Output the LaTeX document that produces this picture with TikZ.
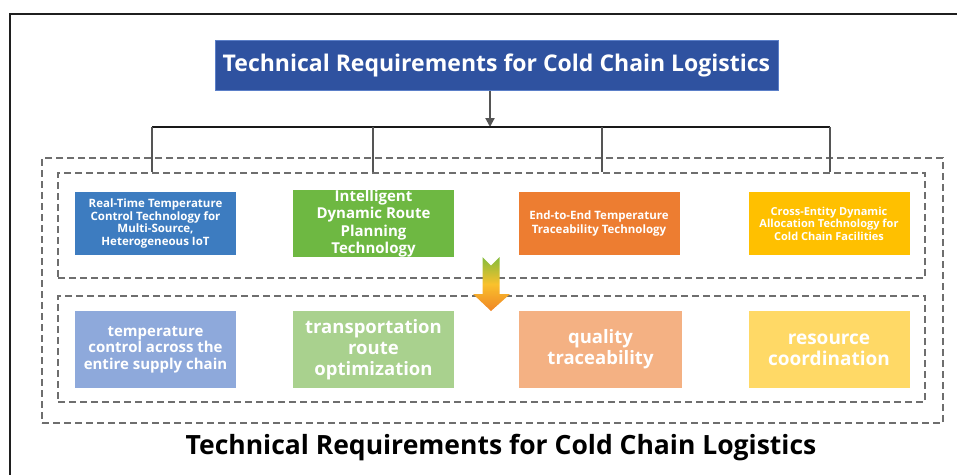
\documentclass[tikz,border=0pt]{standalone}
\usepackage{fontspec}
\setmainfont{Open Sans}
\usetikzlibrary{arrows.meta,positioning}

\definecolor{titleblue}{HTML}{2F52A0}
\definecolor{titleedge}{HTML}{5B7FC8}
\definecolor{cblue}{HTML}{3D7CC0}
\definecolor{cgreen}{HTML}{6EB842}
\definecolor{corange}{HTML}{ED7D31}
\definecolor{cyellow}{HTML}{FFC000}
\definecolor{lblue}{HTML}{8EA9DB}
\definecolor{lgreen}{HTML}{A9D18E}
\definecolor{lorange}{HTML}{F4B183}
\definecolor{lyellow}{HTML}{FFD966}
\definecolor{dashgray}{HTML}{6E6E6E}
\definecolor{linkgray}{HTML}{555555}
\definecolor{agreen}{HTML}{84BC3C}
\definecolor{ayellow}{HTML}{F9C12C}
\definecolor{aorange}{HTML}{EF8526}

\tikzset{
  techbox/.style={rectangle, inner sep=0pt, minimum width=161pt, minimum height=63pt,
    text=white, align=center, font=\bfseries},
  goalbox/.style={rectangle, inner sep=0pt, minimum width=161pt, minimum height=77pt,
    text=white, align=center, font=\bfseries},
  groupbox/.style={draw=dashgray, line width=2pt, dash pattern=on 7pt off 4pt, inner sep=0pt},
  link/.style={draw=linkgray, line width=2pt},
}

\begin{document}
\begin{tikzpicture}[x=1pt, y=-1pt]
\useasboundingbox (0,0) rectangle (957,475);

% page frame (top and left edges)
\draw[line width=2.5pt, color=black!88] (957,14) -- (10,14) -- (10,475);

% dashed group frames
\node[groupbox, minimum width=901pt, minimum height=265pt] (outer) at (492.5,290.5) {};
\node[groupbox, minimum width=867pt, minimum height=105pt] (techgroup) at (491.5,225.5) {};
\node[groupbox, minimum width=867pt, minimum height=106pt] (goalgroup) at (491.5,349) {};

% heading box
\node[rectangle, fill=titleblue, draw=titleedge, line width=1pt, inner sep=0pt,
      minimum width=563pt, minimum height=50pt, text=white,
      font=\bfseries\fontsize{23}{26}\selectfont] (title) at (496.5,65)
      {Technical Requirements for Cold Chain Logistics};

% technology boxes
\node[techbox, fill=cblue, font=\bfseries\fontsize{11.5}{12.8}\selectfont] (t1) at (155.5,223.5)
  {Real-Time Temperature\\Control Technology for\\Multi-Source,\\Heterogeneous IoT};
\node[techbox, fill=cgreen, font=\bfseries\fontsize{15}{17.5}\selectfont] (t2) at (373.5,223.5)
  {Intelligent\\Dynamic Route\\Planning\\Technology};
\node[techbox, fill=corange, font=\bfseries\fontsize{11.5}{13.3}\selectfont] (t3) at (599,223.5)
  {End-to-End Temperature\\Traceability Technology};
\node[techbox, fill=cyellow, font=\bfseries\fontsize{11}{12.5}\selectfont] (t4) at (829,223.5)
  {Cross-Entity Dynamic\\Allocation Technology for\\Cold Chain Facilities};

% requirement boxes
\node[goalbox, fill=lblue, font=\bfseries\fontsize{15}{16.5}\selectfont] (g1) at (155.5,349.5)
  {temperature\\control across the\\entire supply chain};
\node[goalbox, fill=lgreen, font=\bfseries\fontsize{18.5}{21}\selectfont] (g2) at (373.5,349.5)
  {transportation\\route\\optimization};
\node[goalbox, fill=lorange, minimum width=163pt, font=\bfseries\fontsize{18.5}{21}\selectfont] (g3) at (600.5,349.5)
  {quality\\traceability};
\node[goalbox, fill=lyellow, font=\bfseries\fontsize{19}{21}\selectfont] (g4) at (829,349.5)
  {resource\\coordination};

% caption
\node[font=\bfseries\fontsize{26.5}{30}\selectfont, text=black, inner sep=0pt] (caption) at (501,448)
  {Technical Requirements for Cold Chain Logistics};

% branching connector
\coordinate (hub) at (490,127);
\coordinate (b1) at (152,127);
\coordinate (b2) at (373,127);
\coordinate (b3) at (602,127);
\coordinate (b4) at (830,127);
\draw[link, -{Triangle[length=9pt,width=9pt]}] (title.south -| hub) -- (hub);
\draw[line width=2.5pt, color=black!90] (b1) -- (b4);
\draw[link] (b1) -- (b1 |- techgroup.north);
\draw[link] (b2) -- (b2 |- techgroup.north);
\draw[link] (b3) -- (b3 |- techgroup.north);
\draw[link] (b4) -- (b4 |- techgroup.north);

% shaded arrow from technologies to requirements
\shade[top color=agreen, bottom color=aorange, middle color=ayellow]
  (482.5,257) -- (491,265.5) -- (499.5,257) -- (499.5,294) -- (510,294)
  -- (491,311) -- (473,294) -- (482.5,294) -- cycle;
\end{tikzpicture}
\end{document}
